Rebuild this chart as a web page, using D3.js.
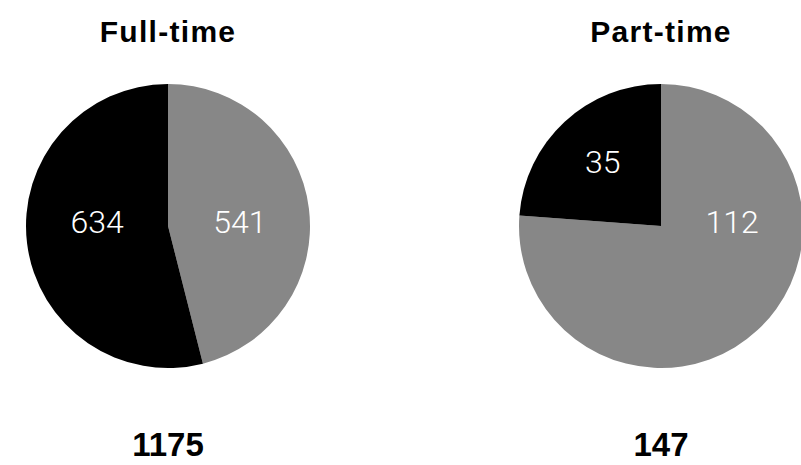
<!DOCTYPE html>
<html>
<head>
<meta charset="utf-8">
<script src="https://cdn.jsdelivr.net/npm/d3@7"></script>
<style>
  body { margin: 0; background: #fff; }
  .title { font-family: "Liberation Sans", Arial, sans-serif; font-weight: bold; font-size: 30px; letter-spacing: 1.3px; }
  .total { font-family: "Liberation Sans", Arial, sans-serif; font-weight: bold; font-size: 33px; }
  .sliceLabel { font-family: Roboto, "Liberation Sans", sans-serif; font-weight: 300; font-size: 32px; fill: #fff; }
</style>
</head>
<body>
<div id="chart"></div>
<script>
// data
var groups = ["Full-time", "Part-time"];
var sliceKeys = ["gray", "black"];
var grayValues = [541, 112];
var blackValues = [634, 35];

var svgWidth = 801;
var svgHeight = 465;
var radius = 142;
var centerY = 226;

var colors = d3.scaleOrdinal()
    .domain(sliceKeys)
    .range(["#878787", "#000000"]);

// pie centres across the page
var xPos = d3.scalePoint()
    .domain(groups)
    .range([168, 661]);

var svg = d3.select("#chart")
    .append("svg")
    .attr("width", svgWidth)
    .attr("height", svgHeight);

var pie = d3.pie()
    .sort(null)
    .value(d => d.value);

var arc = d3.arc()
    .innerRadius(0)
    .outerRadius(radius);

// distance from a point to the radius line at angle a
function segDist(x, y, a, r) {
    var ux = Math.sin(a), uy = -Math.cos(a);
    var t = Math.max(0, Math.min(r, x * ux + y * uy));
    return Math.hypot(x - t * ux, y - t * uy);
}

// roughly the point of the slice furthest from its edges, kept near horizontal
function labelPoint(d, r) {
    var cands = [];
    var best = 0;
    for (var rho = 1; rho < r; rho += 1) {
        for (var a = d.startAngle; a <= d.endAngle; a += 0.01) {
            var x = rho * Math.sin(a), y = -rho * Math.cos(a);
            var dd = Math.min(r - rho, segDist(x, y, d.startAngle, r), segDist(x, y, d.endAngle, r));
            cands.push([x, y, dd]);
            if (dd > best) best = dd;
        }
    }
    var good = cands.filter(c => c[2] >= best - 1);
    good.sort((p, q) => Math.abs(p[1]) - Math.abs(q[1]) || q[2] - p[2]);
    return [good[0][0], good[0][1]];
}

groups.forEach(function(g, i) {
    var slices = [
        { key: "gray", value: grayValues[i] },
        { key: "black", value: blackValues[i] }
    ];
    var total = d3.sum(slices, d => d.value);

    svg.append("text")
        .attr("class", "title")
        .attr("x", xPos(g))
        .attr("y", 42)
        .attr("text-anchor", "middle")
        .text(g);

    var pieGroup = svg.append("g")
        .attr("transform", `translate(${xPos(g)}, ${centerY})`);

    var arcs = pie(slices);

    pieGroup.selectAll("path")
        .data(arcs)
        .enter()
        .append("path")
        .attr("d", arc)
        .attr("fill", d => colors(d.data.key));

    pieGroup.selectAll(".sliceLabel")
        .data(arcs)
        .enter()
        .append("text")
        .attr("class", "sliceLabel")
        .attr("text-anchor", "middle")
        .attr("transform", d => "translate(" + labelPoint(d, radius) + ")")
        .attr("dy", "0.22em")
        .text(d => d.data.value);

    svg.append("text")
        .attr("class", "total")
        .attr("x", xPos(g))
        .attr("y", 456)
        .attr("text-anchor", "middle")
        .text(total);
});
</script>
</body>
</html>
